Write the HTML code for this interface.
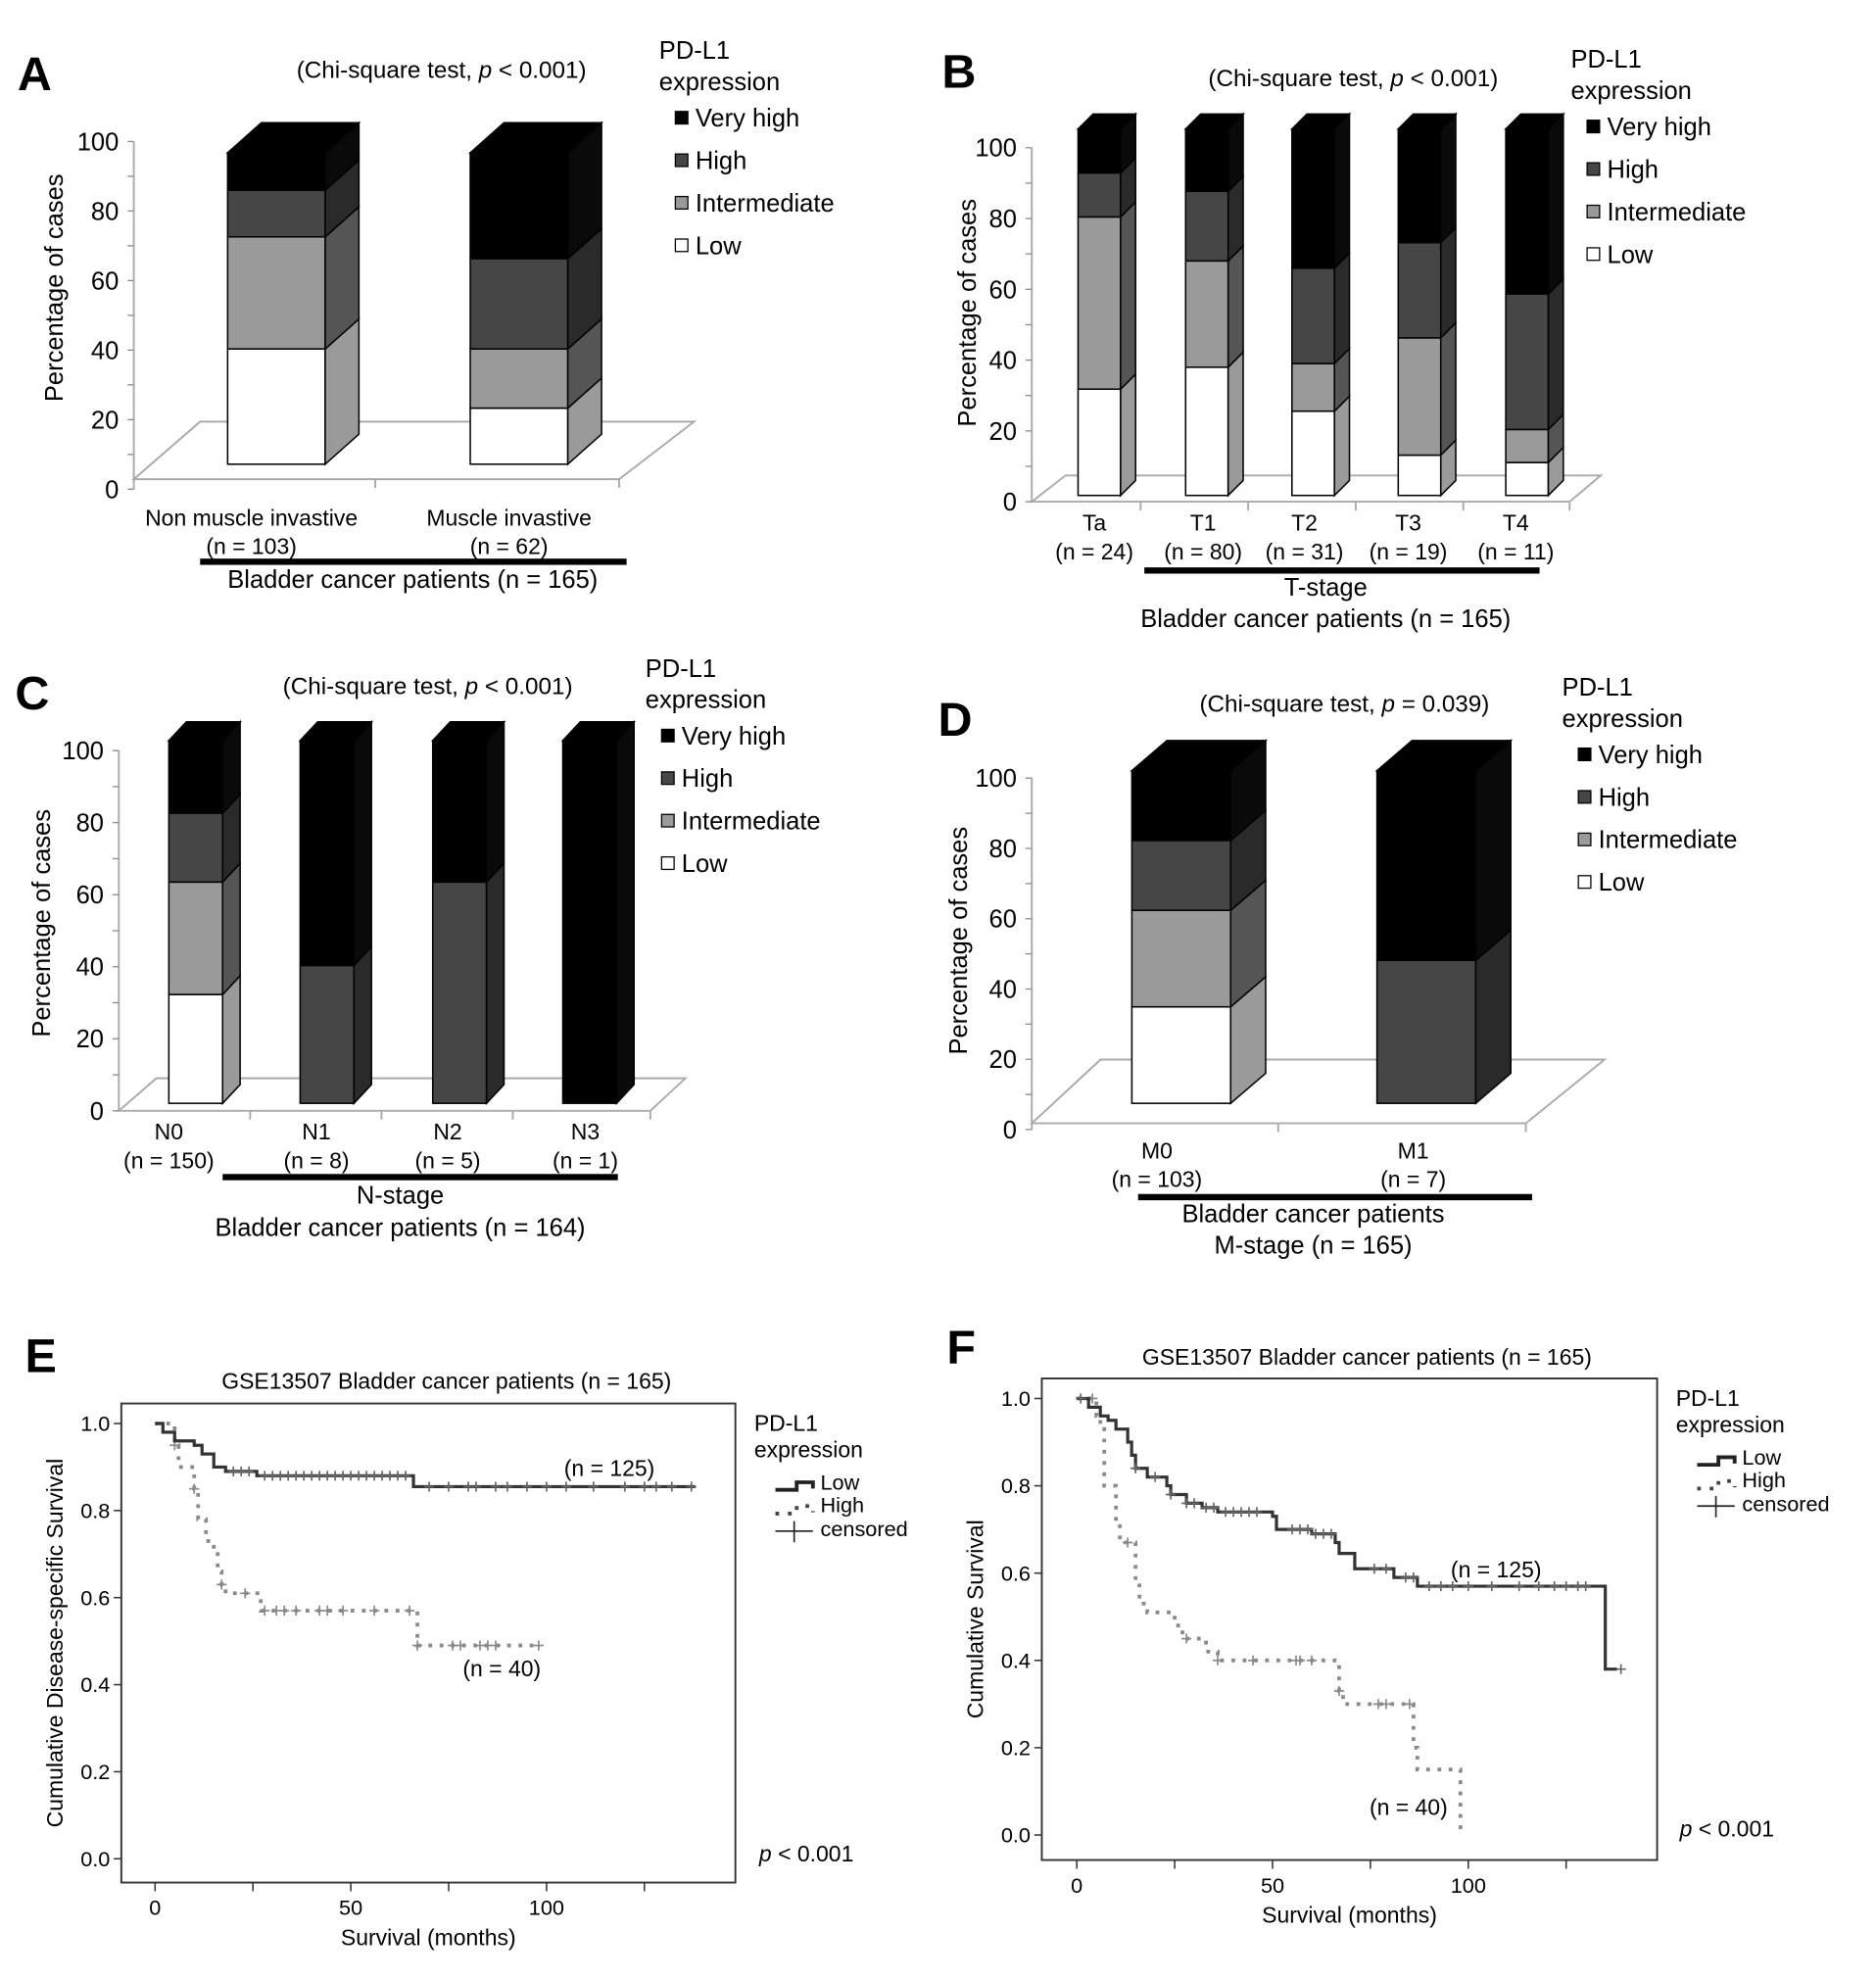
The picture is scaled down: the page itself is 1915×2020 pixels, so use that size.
<!DOCTYPE html>
<html><head><meta charset="utf-8"><style>
html,body{margin:0;padding:0;background:#fff}
svg{display:block}
text{font-family:"Liberation Sans",Arial,sans-serif;fill:#000}
</style></head><body>
<svg id="fig" xmlns="http://www.w3.org/2000/svg" width="1915" height="2020" viewBox="0 0 1500 1582"></svg>
<script>
// ---------- Data ----------
const levels = ["Low","Intermediate","High","Very high"];
const catsA = ["Non muscle invastive","Muscle invastive"];
const nA = ["(n = 103)","(n = 62)"];
const valsA = [[37,36,15,12],[18,19,29,34]];
const catsB = ["Ta","T1","T2","T3","T4"];
const nB = ["(n = 24)","(n = 80)","(n = 31)","(n = 19)","(n = 11)"];
const valsB = [[29,47,12,12],[35,29,19,17],[23,13,26,38],[11,32,26,31],[9,9,37,45]];
const catsC = ["N0","N1","N2","N3"];
const nC = ["(n = 150)","(n = 8)","(n = 5)","(n = 1)"];
const valsC = [[30,31,19,20],[0,0,38,62],[0,0,61,39],[0,0,0,100]];
const catsD = ["M0","M1"];
const nD = ["(n = 103)","(n = 7)"];
const valsD = [[29,29,21,21],[0,0,43,57]];
const pctTicks = [0,20,40,60,80,100];

const eLowT = [0,2,5,10,12,15,18,26,66,138];
const eLowS = [1.0,0.98,0.96,0.95,0.93,0.90,0.89,0.88,0.855,0.855];
const eHighT = [0,5,6,10,11,13,15,16,17,18,27,67,98];
const eHighS = [1.0,0.95,0.90,0.85,0.78,0.73,0.71,0.66,0.63,0.61,0.57,0.49,0.49];
const eLowCens = [20,22,24,28,30,32,34,36,38,40,42,44,46,48,50,52,54,56,58,60,62,64,70,75,80,82,87,90,95,100,105,112,120,125,128,132,137];
const eHighCens = [5,10,17,23,28,31,33,36,42,44,48,56,65,67,76,78,83,85,87,98];

const fLowT = [0,3,6,8,10,13,14,15,18,23,24,28,32,36,50,51,60,66,67,71,81,87,135,138];
const fLowS = [1.0,0.98,0.96,0.95,0.93,0.90,0.87,0.84,0.82,0.80,0.78,0.76,0.75,0.74,0.73,0.70,0.69,0.67,0.645,0.61,0.59,0.57,0.38,0.38];
const fHighT = [0,5,6,7,10,11,15,16,18,25,27,33,36,67,68,86,87,98];
const fHighS = [1.0,0.96,0.93,0.80,0.72,0.67,0.58,0.53,0.51,0.48,0.45,0.42,0.40,0.33,0.30,0.20,0.15,0.0];
const fLowCens = [1,15,20,24,28,30,33,35,38,40,42,44,46,55,57,59,61,63,65,76,79,84,86,90,93,96,100,106,113,118,122,125,128,130,139];
const fHighCens = [4,13,28,36,45,56,57,60,67,77,79,85];
const kmYTicks = [0,0.2,0.4,0.6,0.8,1.0];
const kmXLabels = [0,50,100];
const kmXTicks = [0,25,50,75,100,125];

// ---------- helpers ----------
const svg = document.getElementById('fig');
const NS = 'http://www.w3.org/2000/svg';
function el(tag, attrs, parent){
  const e = document.createElementNS(NS, tag);
  for (const k in attrs) e.setAttribute(k, attrs[k]);
  (parent||svg).appendChild(e);
  return e;
}
function txt(str, x, y, size, anchor, parent, extra){
  const t = el('text', {x:x, y:y, 'font-size':size, 'text-anchor':anchor||'start'}, parent);
  if (extra) for (const k in extra) t.setAttribute(k, extra[k]);
  t.textContent = str;
  return t;
}
const front = ['#ffffff','#9a9a9a','#464646','#000000'];
const side  = ['#9a9a9a','#555555','#2a2a2a','#0a0a0a'];

function legend(g, x, y, gap){
  txt('PD-L1', x, y, 20, 'start', g);
  txt('expression', x, y+25, 20, 'start', g);
  const order = [3,2,1,0];
  order.forEach((li, i) => {
    const yy = y + 50 + i*gap + 4;
    const sw = el('rect', {x:x+13, y:yy-12, width:10, height:10, fill:front[li], stroke:'#000', 'stroke-width':1}, g);
    
    
    const t = txt(levels[li], x+29, yy, 20, 'start', g);
    
    
  });
}

function barPanel(cfg, cats, ns, vals){
  const g = el('g', {});
  
  
  txt(cfg.letter, cfg.lx, cfg.ly, 38, 'start', g, {'font-weight':'bold'});
  const title = txt('', cfg.tx, cfg.ty, 19, 'middle', g);
  title.innerHTML = '(Chi-square test, <tspan font-style="italic">p</tspan> ' + cfg.pstr + ')';
  
  
  // floor
  const f = cfg.floor;
  el('polygon', {points:`${f.fl},${f.fy} ${f.bl},${f.by} ${f.br},${f.by} ${f.fr},${f.fy}`, fill:'none', stroke:'#aaa', 'stroke-width':1.5}, g);
  // y axis
  const ay = v => cfg.y0 - v*(cfg.y0-cfg.y100)/100;
  el('line', {x1:cfg.ax, y1:ay(100), x2:cfg.ax, y2:ay(0), stroke:'#aaa','stroke-width':1.5}, g);
  for (let v=0; v<=100; v+=10){
    el('line', {x1:cfg.ax-5, y1:ay(v), x2:cfg.ax, y2:ay(v), stroke:'#888','stroke-width':1}, g);
  }
  pctTicks.forEach(v => {
    const t = txt(String(v), cfg.ax-12, ay(v)+7, 20, 'end', g);
    
    
  });
  // front-edge ticks
  cfg.fticks.forEach(x => el('line', {x1:x, y1:f.fy, x2:x, y2:f.fy+7, stroke:'#aaa','stroke-width':1.5}, g));
  const yt = txt('Percentage of cases', 0, 0, 20, 'middle', g, {transform:`translate(${cfg.ytx},${cfg.yty}) rotate(-90)`});
  
  
  // bars
  const by = v => cfg.bb - v*cfg.bs;
  cats.forEach((c, i) => {
    const x0 = cfg.bx[i], w = cfg.bw, dx = cfg.dx, dy = cfg.dy;
    let cum = 0, topY = null;
    vals[i].forEach((v, li) => {
      if (v <= 0) return;
      const yb = by(cum), ytp = by(cum+v);
      const r = el('rect', {x:x0, y:ytp, width:w, height:yb-ytp, fill:front[li], stroke:'#000','stroke-width':1.2}, g);
      
      
      el('polygon', {points:`${x0+w},${yb} ${x0+w+dx},${yb+dy} ${x0+w+dx},${ytp+dy} ${x0+w},${ytp}`, fill:side[li], stroke:'#000','stroke-width':1.2}, g);
      cum += v; topY = ytp;
    });
    el('polygon', {points:`${x0},${topY} ${x0+dx},${topY+dy} ${x0+w+dx},${topY+dy} ${x0+w},${topY}`, fill:'#000', stroke:'#000','stroke-width':1.2}, g);
    const cl = txt(c, cfg.cx[i], cfg.cly, 18, 'middle', g);
    
    
    txt(ns[i], cfg.cx[i], cfg.cly+23, 18, 'middle', g);
  });
  el('rect', {x:cfg.line[0], y:cfg.line[2]-2.5, width:cfg.line[1]-cfg.line[0], height:5, fill:'#000'}, g);
  cfg.bottom.forEach(b => txt(b[0], b[1], b[2], 20, 'middle', g));
  legend(g, cfg.legx, cfg.legy, cfg.leggap);
}

barPanel({name:'panel-a', letter:'A', lx:14, ly:72, tx:353, ty:62, pstr:'< 0.001',
  floor:{fl:107,fy:383,bl:160,by:337,br:555,fr:495}, ax:107, y0:391, y100:113,
  fticks:[300,495], ytx:50, yty:230, bb:371, bs:2.49, bx:[182,376], bw:78, dx:27, dy:-24,
  cx:[201,407], cly:420, line:[160,501,449],
  bottom:[['Bladder cancer patients (n = 165)',330,470]], legx:527, legy:47, leggap:34}, catsA, nA, valsA);

barPanel({name:'panel-b', letter:'B', lx:753, ly:70, tx:1082, ty:69, pstr:'< 0.001',
  floor:{fl:825,fy:401,bl:852,by:380,br:1280,fr:1255}, ax:825, y0:401, y100:118,
  fticks:[912,998,1084,1170,1255], ytx:780, yty:250, bb:396, bs:2.93, bx:[862,948,1033,1118,1204], bw:34, dx:12, dy:-12,
  cx:[875,962,1043,1126,1212], cly:424, line:[915,1231,456],
  bottom:[['T-stage',1060,476],['Bladder cancer patients (n = 165)',1060,501]], legx:1256, legy:54, leggap:34}, catsB, nB, valsB);

barPanel({name:'panel-c', letter:'C', lx:12, ly:567, tx:342, ty:555, pstr:'< 0.001',
  floor:{fl:95,fy:888,bl:125,by:862,br:548,fr:520}, ax:95, y0:888, y100:600,
  fticks:[200,305,410,520], ytx:40, yty:738, bb:882, bs:2.9, bx:[135,240,346,450], bw:43, dx:14, dy:-15,
  cx:[135,253,358,468], cly:911, line:[178,494,941],
  bottom:[['N-stage',320,962],['Bladder cancer patients (n = 164)',320,988]], legx:516, legy:541, leggap:34}, catsC, nC, valsC);

barPanel({name:'panel-d', letter:'D', lx:750, ly:588, tx:1075, ty:569, pstr:'= 0.039',
  floor:{fl:825,fy:898,bl:880,by:847,br:1283,fr:1220}, ax:825, y0:903, y100:622,
  fticks:[1022,1220], ytx:773, yty:752, bb:882, bs:2.66, bx:[905,1101], bw:79, dx:28, dy:-24,
  cx:[925,1130], cly:926, line:[910,1225,957],
  bottom:[['Bladder cancer patients',1050,977],['M-stage (n = 165)',1050,1002]], legx:1249, legy:556, leggap:34}, catsD, nD, valsD);

// ---------- KM panels ----------
function kmPanel(cfg){
  const g = el('g', {});
  
  
  const X = t => cfg.x0 + t*(cfg.x100-cfg.x0)/100;
  const Y = s => cfg.y0 - s*(cfg.y0-cfg.y1);
  txt(cfg.letter, cfg.lx, cfg.ly, 38, 'start', g, {'font-weight':'bold'});
  txt(cfg.title, cfg.tx, cfg.ty, 18, 'middle', g);
  el('rect', {x:cfg.box[0], y:cfg.box[1], width:cfg.box[2]-cfg.box[0], height:cfg.box[3]-cfg.box[1], fill:'none', stroke:'#333','stroke-width':1.5}, g);
  kmYTicks.forEach(v => {
    el('line', {x1:cfg.box[0]-6, y1:Y(v), x2:cfg.box[0], y2:Y(v), stroke:'#333','stroke-width':1.2}, g);
    const t = txt(v.toFixed(1), cfg.box[0]-9, Y(v)+6, 17, 'end', g);
    
    
  });
  kmXTicks.forEach(v => el('line', {x1:X(v), y1:cfg.box[3], x2:X(v), y2:cfg.box[3]+7, stroke:'#333','stroke-width':1.2}, g));
  kmXLabels.forEach(v => {
    const t = txt(String(v), X(v), cfg.box[3]+26, 17, 'middle', g);
    
    
  });
  const xt = txt('Survival (months)', (cfg.box[0]+cfg.box[2])/2, cfg.box[3]+50, 18, 'middle', g);
  
  
  const yt = txt(cfg.ytitle, 0, 0, 18, 'middle', g, {transform:`translate(${cfg.ytx},${(cfg.box[1]+cfg.box[3])/2}) rotate(-90)`});
  
  
  function stepPath(T, S){
    let d = `M${X(T[0])},${Y(S[0])}`;
    for (let i=1;i<T.length;i++){ d += ` L${X(T[i])},${Y(S[i-1])} L${X(T[i])},${Y(S[i])}`; }
    return d;
  }
  function sAt(T, S, t){ let s = S[0]; for (let i=0;i<T.length;i++){ if (T[i] <= t) s = S[i]; } return s; }
  function curve(T, S, C, color, dash, w, nm){
    const p = el('path', {d:stepPath(T,S), fill:'none', stroke:color, 'stroke-width':w, 'stroke-dasharray':dash}, g);
    
    
    C.forEach(t => {
      const x = X(t), y = Y(sAt(T,S,t));
      const c = el('path', {d:`M${x-4},${y} L${x+4},${y} M${x},${y-4} L${x},${y+4}`, stroke:color === '#333' ? '#666' : '#888', 'stroke-width':1.3}, g);
      
      
    });
  }
  curve(cfg.hT, cfg.hS, cfg.hC, '#8a8a8a', '3,6', 3, 'high-curve');
  curve(cfg.lT, cfg.lS, cfg.lC, '#333', 'none', 2.5, 'low-curve');
  txt('(n = 125)', cfg.n125[0], cfg.n125[1], 18, 'start', g);
  txt('(n = 40)', cfg.n40[0], cfg.n40[1], 18, 'start', g);
  // legend
  const lx = cfg.legx, ly = cfg.legy;
  txt('PD-L1', lx, ly, 18, 'start', g);
  txt('expression', lx, ly+21, 18, 'start', g);
  el('path', {d:`M${lx+17},${ly+47} L${lx+34},${ly+47} L${lx+34},${ly+41} L${lx+47},${ly+41} L${lx+47},${ly+46}`, fill:'none', stroke:'#222','stroke-width':3}, g);
  txt('Low', lx+53, ly+47, 17, 'start', g);
  el('path', {d:`M${lx+17},${ly+66} L${lx+34},${ly+66} L${lx+34},${ly+60} L${lx+47},${ly+60} L${lx+47},${ly+65}`, fill:'none', stroke:'#444','stroke-width':3,'stroke-dasharray':'3,7'}, g);
  txt('High', lx+53, ly+65, 17, 'start', g);
  el('path', {d:`M${lx+17},${ly+80} L${lx+47},${ly+80} M${lx+32},${ly+72} L${lx+32},${ly+89}`, stroke:'#222','stroke-width':1.3}, g);
  txt('censored', lx+53, ly+84, 17, 'start', g);
  const p = txt('', cfg.px, cfg.py, 18, 'start', g);
  p.innerHTML = '<tspan font-style="italic">p</tspan> &lt; 0.001';
}

kmPanel({name:'panel-e', letter:'E', lx:20, ly:1097, title:'GSE13507 Bladder cancer patients (n = 165)', tx:357, ty:1110,
  box:[97,1122,588,1505], x0:124, x100:437, y0:1486, y1:1138, ytitle:'Cumulative Disease-specific Survival', ytx:50,
  lT:eLowT, lS:eLowS, lC:eLowCens, hT:eHighT, hS:eHighS, hC:eHighCens,
  n125:[451,1180], n40:[370,1340], legx:603, legy:1144, px:607, py:1488});

kmPanel({name:'panel-f', letter:'F', lx:757, ly:1090, title:'GSE13507 Bladder cancer patients (n = 165)', tx:1093, ty:1091,
  box:[833,1102,1325,1487], x0:861, x100:1174, y0:1467, y1:1118, ytitle:'Cumulative Survival', ytx:786,
  lT:fLowT, lS:fLowS, lC:fLowCens, hT:fHighT, hS:fHighS, hC:fHighCens,
  n125:[1160,1261], n40:[1095,1451], legx:1340, legy:1124, px:1343, py:1468});
</script>
</body></html>
